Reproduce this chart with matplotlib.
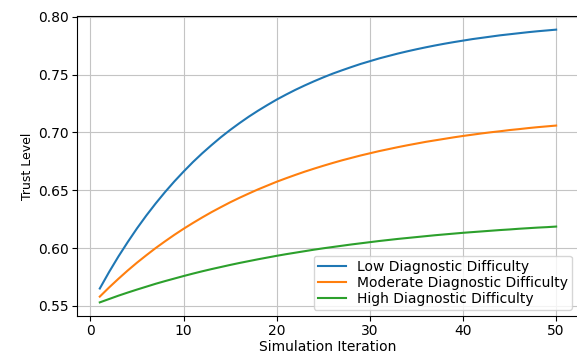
import matplotlib
matplotlib.use('Agg')
import matplotlib.pyplot as plt

iterations = list(range(1, 51))
low_trust = [0.5650, 0.5793, 0.5927, 0.6052, 0.6171, 0.6282, 0.6386, 0.6484, 0.6576, 0.6662,
             0.6744, 0.6820, 0.6891, 0.6959, 0.7022, 0.7081, 0.7137, 0.7189, 0.7238, 0.7285,
             0.7328, 0.7369, 0.7407, 0.7443, 0.7477, 0.7509, 0.7538, 0.7566, 0.7593, 0.7617,
             0.7641, 0.7662, 0.7683, 0.7702, 0.7720, 0.7737, 0.7753, 0.7768, 0.7782, 0.7795,
             0.7808, 0.7819, 0.7830, 0.7841, 0.7850, 0.7859, 0.7868, 0.7876, 0.7883, 0.7890]
moderate_trust = [0.5580, 0.5659, 0.5734, 0.5806, 0.5874, 0.5938, 0.6000, 0.6058, 0.6114, 0.6167,
                  0.6217, 0.6265, 0.6311, 0.6354, 0.6396, 0.6435, 0.6472, 0.6508, 0.6541, 0.6574,
                  0.6604, 0.6633, 0.6661, 0.6687, 0.6712, 0.6736, 0.6759, 0.6780, 0.6801, 0.6820,
                  0.6839, 0.6856, 0.6873, 0.6889, 0.6904, 0.6919, 0.6932, 0.6945, 0.6958, 0.6970,
                  0.6981, 0.6992, 0.7002, 0.7011, 0.7021, 0.7029, 0.7038, 0.7046, 0.7053, 0.7060]
high_trust = [0.5530, 0.5559, 0.5588, 0.5615, 0.5641, 0.5666, 0.5691, 0.5714, 0.5736, 0.5758,
              0.5779, 0.5799, 0.5818, 0.5836, 0.5854, 0.5871, 0.5887, 0.5903, 0.5918, 0.5933,
              0.5947, 0.5960, 0.5973, 0.5986, 0.5998, 0.6009, 0.6020, 0.6031, 0.6041, 0.6051,
              0.6061, 0.6070, 0.6079, 0.6087, 0.6095, 0.6103, 0.6111, 0.6118, 0.6125, 0.6132,
              0.6138, 0.6144, 0.6150, 0.6156, 0.6161, 0.6167, 0.6172, 0.6177, 0.6181, 0.6186]
labels = ['Low Diagnostic Difficulty', 'Moderate Diagnostic Difficulty', 'High Diagnostic Difficulty']

fig = plt.figure(figsize=(5.77, 3.54), dpi=100)
ax = fig.add_axes([0.1334, 0.1073, 0.870, 0.8475])

for series, label in zip([low_trust, moderate_trust, high_trust], labels):
    ax.plot(iterations, series, label=label)

ax.set_xlabel('Simulation Iteration', fontsize=10, labelpad=1)
ax.set_ylabel('Trust Level', fontsize=9, labelpad=3)
ax.tick_params(labelsize=10, pad=2.5)
ax.grid(True, color='#c4c4c4')
ax.legend(loc='lower right', fontsize=10, labelspacing=0.15, borderpad=0.3,
          borderaxespad=0, bbox_to_anchor=(0.986, 0.02))

fig.savefig('out.png', dpi=100)
